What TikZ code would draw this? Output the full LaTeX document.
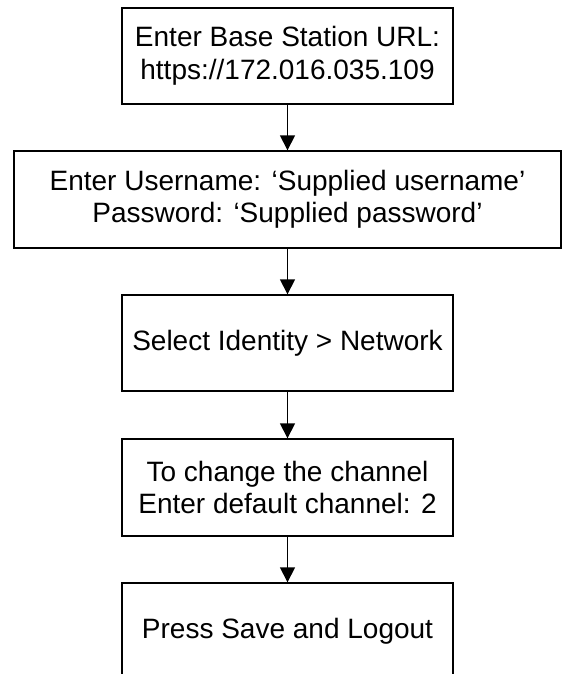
\documentclass[tikz,border=0pt]{standalone}
\usepackage{fontspec}
\setmainfont{Liberation Sans}
\usetikzlibrary{arrows.meta}
\begin{document}
\begin{tikzpicture}[x=1pt,y=-1pt,
  box/.style={draw, line width=1.4pt, inner sep=0pt, align=center,
    font=\fontsize{28}{32.5}\selectfont},
  narrowbox/.style={box, minimum width=331pt},
  conn/.style={line width=1.6pt, -{Triangle[length=15pt,width=15pt]}}]
\useasboundingbox (0,0) rectangle (563,674);
\clip (0,0) rectangle (563,674);
\node[narrowbox, minimum height=96pt] (b1) at (287.5,56)
  {Enter Base Station URL:\\https://172.016.035.109};
\node[box, minimum width=547pt, minimum height=97pt] (b2) at (287.5,199.5)
  {Enter Username: ‘Supplied username’\\Password: ‘Supplied password’};
\node[narrowbox, minimum height=96pt] (b3) at (287.5,343)
  {Select Identity > Network};
\node[narrowbox, minimum height=97pt] (b4) at (287.5,487.5)
  {To change the channel\\Enter default channel: 2};
\node[narrowbox, minimum height=97pt] (b5) at (287.5,631.5)
  {Press Save and Logout};
\draw[conn] (b1.south) -- (b2.north);
\draw[conn] (b2.south) -- (b3.north);
\draw[conn] (b3.south) -- (b4.north);
\draw[conn] (b4.south) -- (b5.north);
\end{tikzpicture}
\end{document}
